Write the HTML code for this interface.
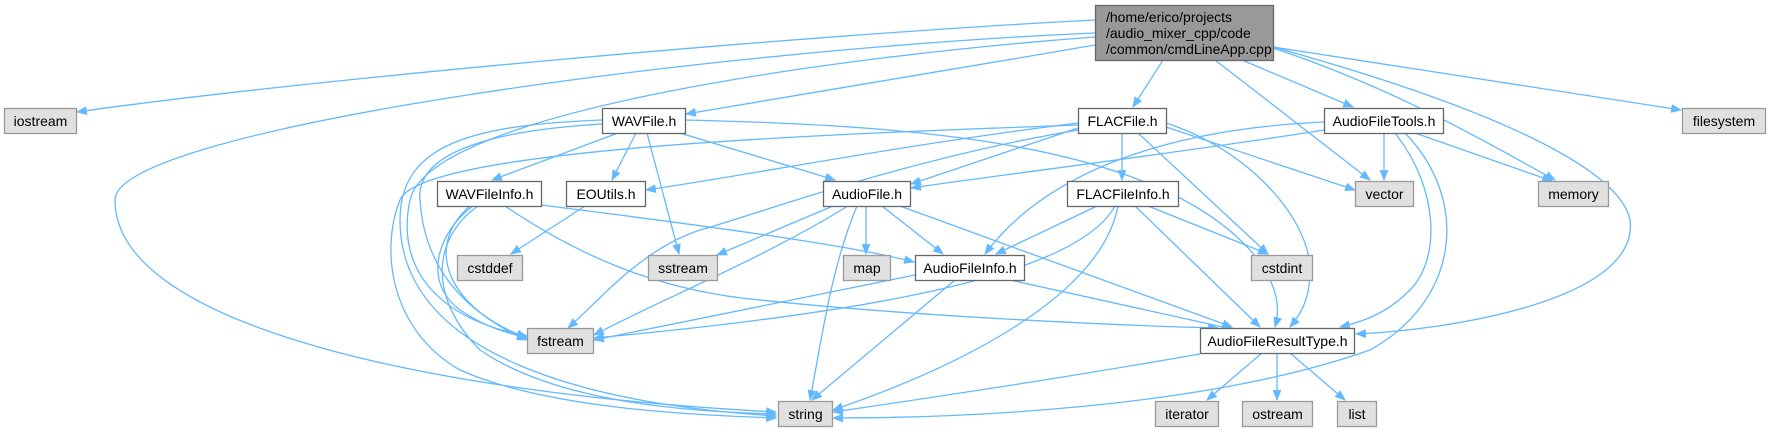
<!DOCTYPE html>
<html><head><meta charset="utf-8"><style>
html,body{margin:0;padding:0;background:#fff;}
svg{display:block;}
text{font-family:"Liberation Sans",Arial,sans-serif;font-size:14px;fill:#000;}
.e{fill:none;stroke:#63b8ff;stroke-width:1.3;}
.g{fill:#e0e0e0;stroke:#999;stroke-width:1.3;}
.w{fill:#fff;stroke:#666;stroke-width:1.3;}
</style></head><body>
<svg width="1771" height="432" viewBox="0 0 1771 432" xmlns="http://www.w3.org/2000/svg">
<defs><marker id="a" viewBox="0 0 10 10" refX="9" refY="5" markerWidth="11" markerHeight="11" markerUnits="userSpaceOnUse" orient="auto"><path d="M0,1 L10,5 L0,9 z" fill="#63b8ff"/></marker></defs>
<g class="e" marker-end="url(#a)">
<!-- main -->
<path d="M1095,20 C800,35 300,80 77,112"/>
<path d="M1095,33 C700,50 115,130 115,200 C115,330 450,395 776,412"/>
<path d="M1095,37 C850,55 430,110 410,200 C395,270 440,320 527,336"/>
<path d="M1095,45 C950,70 800,95 686,114"/>
<path d="M1163,60 L1133,107"/>
<path d="M1215,60 L1370,180"/>
<path d="M1242,60 L1353,107"/>
<path d="M1273,48 C1400,90 1500,150 1555,180"/>
<path d="M1273,47 C1500,110 1620,170 1630,220 C1640,300 1450,330 1356,334"/>
<path d="M1273,47 L1681,110"/>
<!-- WAVFile -->
<path d="M618,133 L492,180"/>
<path d="M636,133 L612,180"/>
<path d="M647,133 L679,254"/>
<path d="M680,133 L835,180"/>
<path d="M685,120 C900,125 1150,140 1250,250 C1280,285 1280,310 1275,327"/>
<path d="M602,124 C500,130 415,150 420,200 C425,280 480,320 527,338"/>
<path d="M602,120 C470,125 400,145 400,220 C400,360 600,405 776,416"/>
<!-- FLACFile -->
<path d="M1078,123 C900,145 750,175 646,190"/>
<path d="M1078,128 L911,184"/>
<path d="M1122,133 L1122,180"/>
<path d="M1138,133 L1268,254"/>
<path d="M1166,127 L1355,190"/>
<path d="M1166,123 C1250,150 1310,220 1310,270 C1310,300 1300,315 1290,327"/>
<path d="M1078,130 C900,160 740,220 700,230 C640,250 600,300 568,328"/>
<path d="M1078,125 C800,135 420,150 400,200 C380,250 390,330 460,370 C550,410 700,415 776,418"/>
<!-- AudioFileTools -->
<path d="M1324,130 C1200,150 1000,175 911,188"/>
<path d="M1324,122 C1150,130 1040,180 985,254"/>
<path d="M1384,133 L1384,180"/>
<path d="M1415,133 L1552,181"/>
<path d="M1395,133 C1440,190 1440,260 1410,290 C1390,310 1370,320 1340,327"/>
<path d="M1405,133 C1470,200 1460,300 1370,350 C1200,410 950,418 833,418"/>
<!-- WAVFileInfo -->
<path d="M541,205 C700,225 850,245 914,262"/>
<path d="M505,206 C570,250 650,290 760,300 C900,315 1100,325 1218,328"/>
<path d="M473,206 C440,230 420,280 460,310 C490,330 510,333 527,338"/>
<path d="M470,206 C430,240 435,300 527,340"/>
<path d="M478,206 C430,240 430,300 480,350 C560,405 700,412 776,414"/>
<!-- EOUtils -->
<path d="M585,206 L511,254"/>
<!-- AudioFile -->
<path d="M833,206 L717,255"/>
<path d="M866,206 L866,254"/>
<path d="M882,206 L943,254"/>
<path d="M900,206 L1232,327"/>
<path d="M848,206 C760,260 660,300 594,335"/>
<path d="M857,206 C830,270 820,350 810,400"/>
<!-- FLACFileInfo -->
<path d="M1097,206 L996,254"/>
<path d="M1148,206 L1268,254"/>
<path d="M1135,206 L1260,327"/>
<path d="M1115,206 C1080,270 900,310 594,338"/>
<path d="M1118,206 C1100,300 950,370 833,410"/>
<!-- AudioFileInfo -->
<path d="M915,275 L594,340"/>
<path d="M955,280 L812,400"/>
<path d="M1010,280 L1232,329"/>
<!-- AudioFileResultType -->
<path d="M1200,354 C1080,375 950,395 833,412"/>
<path d="M1262,353 L1207,400"/>
<path d="M1277,353 L1277,400"/>
<path d="M1290,353 L1345,400"/>
</g>
<rect x="1095.5" y="5.5" width="178" height="55" fill="#999" stroke="#666" stroke-width="1.3"/>
<text x="1106" y="22">/home/erico/projects</text>
<text x="1106" y="38">/audio_mixer_cpp/code</text>
<text x="1106" y="54">/common/cmdLineApp.cpp</text>
<rect class="g" x="4.5" y="108.5" width="72" height="25"/><text x="40.5" y="126" text-anchor="middle">iostream</text>
<rect class="w" x="602.5" y="108.5" width="83" height="25"/><text x="644" y="126" text-anchor="middle">WAVFile.h</text>
<rect class="w" x="1078.5" y="108.5" width="88" height="25"/><text x="1122.5" y="126" text-anchor="middle">FLACFile.h</text>
<rect class="w" x="1324.5" y="108.5" width="119" height="25"/><text x="1384" y="126" text-anchor="middle">AudioFileTools.h</text>
<rect class="g" x="1682.5" y="108.5" width="83" height="25"/><text x="1724" y="126" text-anchor="middle">filesystem</text>
<rect class="w" x="437.5" y="181.5" width="104" height="25"/><text x="489.5" y="199" text-anchor="middle">WAVFileInfo.h</text>
<rect class="w" x="566.5" y="181.5" width="79" height="25"/><text x="606" y="199" text-anchor="middle">EOUtils.h</text>
<rect class="w" x="823.5" y="181.5" width="87" height="25"/><text x="867" y="199" text-anchor="middle">AudioFile.h</text>
<rect class="w" x="1067.5" y="181.5" width="111" height="25"/><text x="1123" y="199" text-anchor="middle">FLACFileInfo.h</text>
<rect class="g" x="1355.5" y="181.5" width="58" height="25"/><text x="1384.5" y="199" text-anchor="middle">vector</text>
<rect class="g" x="1538.5" y="181.5" width="70" height="25"/><text x="1573.5" y="199" text-anchor="middle">memory</text>
<rect class="g" x="457.5" y="255.5" width="65" height="25"/><text x="490" y="273" text-anchor="middle">cstddef</text>
<rect class="g" x="648.5" y="255.5" width="69" height="25"/><text x="683" y="273" text-anchor="middle">sstream</text>
<rect class="g" x="843.5" y="255.5" width="47" height="25"/><text x="867" y="273" text-anchor="middle">map</text>
<rect class="w" x="915.5" y="255.5" width="109" height="25"/><text x="970" y="273" text-anchor="middle">AudioFileInfo.h</text>
<rect class="g" x="1251.5" y="255.5" width="61" height="25"/><text x="1282" y="273" text-anchor="middle">cstdint</text>
<rect class="g" x="527.5" y="328.5" width="66" height="25"/><text x="560.5" y="346" text-anchor="middle">fstream</text>
<rect class="w" x="1200.5" y="328.5" width="154" height="25"/><text x="1277.5" y="346" text-anchor="middle">AudioFileResultType.h</text>
<rect class="g" x="778.5" y="401.5" width="54" height="25"/><text x="805.5" y="419" text-anchor="middle">string</text>
<rect class="g" x="1155.5" y="401.5" width="63" height="25"/><text x="1187" y="419" text-anchor="middle">iterator</text>
<rect class="g" x="1242.5" y="401.5" width="70" height="25"/><text x="1277.5" y="419" text-anchor="middle">ostream</text>
<rect class="g" x="1337.5" y="401.5" width="39" height="25"/><text x="1357" y="419" text-anchor="middle">list</text>
</svg>
</body></html>
